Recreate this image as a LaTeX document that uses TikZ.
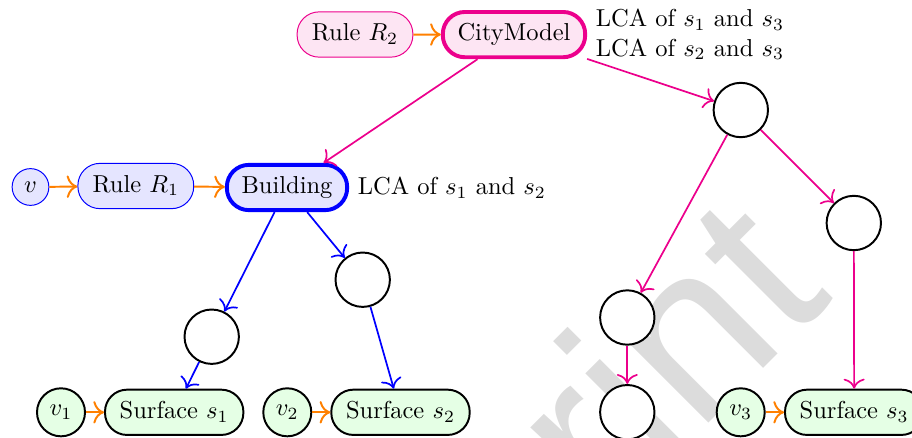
\documentclass[tikz,border=0pt]{standalone}
\usepackage{fontspec}
\usetikzlibrary{arrows.meta}
\newfontfamily\wmfont{Liberation Sans}
\definecolor{cmag}{RGB}{236,0,140}
\definecolor{corange}{RGB}{255,128,0}
\definecolor{wmgray}{RGB}{220,220,220}

\tikzset{
  pill/.style={rectangle, rounded corners=9pt, text height=6.94pt, text depth=1.94pt,
               inner xsep=6pt, inner ysep=4.8pt},
  rulebox/.style={pill, draw=blue, fill=blue!10, thin},
  rulemag/.style={pill, draw=cmag, fill=cmag!10, thin},
  bldbox/.style={pill, draw=blue, fill=blue!10, ultra thick},
  citybox/.style={pill, draw=cmag, fill=cmag!10, ultra thick},
  surfbox/.style={pill, draw=black, fill=green!10, thick},
  vblue/.style={circle, draw=blue, fill=blue!10, thin, minimum size=15pt, inner sep=0pt},
  vgreen/.style={circle, draw=black, fill=green!10, thick, minimum size=19.6pt, inner sep=0pt},
  hollow/.style={circle, draw=black, fill=white, thick, minimum size=22.2pt, inner sep=0pt},
  link/.style={-{To[scale=1.3]}, line width=0.7pt},
  feed/.style={link, draw=corange, line width=0.8pt},
  bedge/.style={link, draw=blue},
  medge/.style={link, draw=cmag},
  wmark/.style={text=wmgray, inner sep=0pt, font=\wmfont\fontsize{94.7pt}{94.7pt}\selectfont}
}

\begin{document}
\begin{tikzpicture}[x=0.40816pt, y=-0.40816pt]
\useasboundingbox (0,0) rectangle (912,437);
\clip (0,0) rectangle (912,437);

% background watermark
\node[wmark, rotate=45, anchor=base west] (wm) at (259.9,872.5) {Preprint};

% Building subtree
\node[vblue]   (v)   at (30.5,187)   {$v$};
\node[rulebox] (r1)  at (135.8,186)  {Rule $R_1$};
\node[bldbox]  (bld) at (287,187.5)  {Building};
\node[anchor=west] (lcab) at (bld.east) {LCA of $s_1$ and $s_2$};

% CityModel root
\node[rulemag] (r2)   at (355,34.5)  {Rule $R_2$};
\node[citybox] (city) at (514,34.6)  {CityModel};
\node[anchor=west, align=left] (lcac) at (city.east) {LCA of $s_1$ and $s_3$\\LCA of $s_2$ and $s_3$};

% intermediate nodes
\node[hollow] (na) at (740.8,110)   {};
\node[hollow] (nb) at (853.8,223)   {};
\node[hollow] (nc) at (627.3,317.5) {};
\node[hollow] (nd) at (627.3,412.2) {};
\node[hollow] (ne) at (211.7,336.7) {};
\node[hollow] (nf) at (362.7,279.7) {};

% surfaces
\node[vgreen]  (v1) at (61,412.3)    {$v_1$};
\node[surfbox] (s1) at (174.2,412.3) {Surface $s_1$};
\node[vgreen]  (v2) at (287.3,412.3) {$v_2$};
\node[surfbox] (s2) at (400.5,412.3) {Surface $s_2$};
\node[vgreen]  (v3) at (740.7,412.3) {$v_3$};
\node[surfbox] (s3) at (854.2,412.3) {Surface $s_3$};

% rule applications
\draw[feed] (v) -- (r1);
\draw[feed] (r1) -- (bld);
\draw[feed] (r2) -- (city);
\draw[feed] (v1) -- (s1);
\draw[feed] (v2) -- (s2);
\draw[feed] (v3) -- (s3);

% CityModel hierarchy
\draw[medge] (city) -- (bld);
\draw[medge] (city) -- (na);
\draw[medge] (na) -- (nc);
\draw[medge] (na) -- (nb);
\draw[medge] (nc) -- (nd);
\draw[medge] (nb) -- (s3);

% Building hierarchy
\draw[bedge] (bld) -- (ne);
\draw[bedge] (bld) -- (nf);
\draw[bedge] (ne) -- (s1);
\draw[bedge] (nf) -- (s2);
\end{tikzpicture}
\end{document}
